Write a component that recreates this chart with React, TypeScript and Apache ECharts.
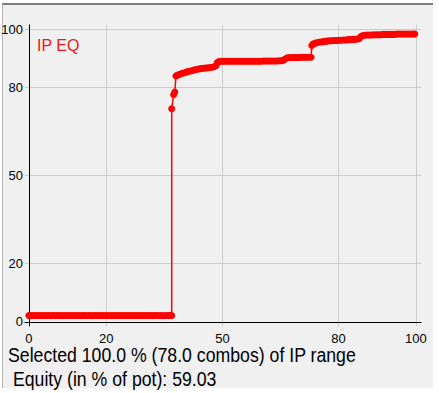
import React, { useEffect, useRef } from "react";
import * as echarts from "echarts";

// [share of IP range in %, equity in %]
const lowerBranch: number[][] = [
  [0, 2.2], [0.6, 2.2], [1.3, 2.2], [1.9, 2.2], [2.6, 2.2], [3.2, 2.2], [3.8, 2.2], [4.5, 2.2],
  [5.1, 2.2], [5.8, 2.2], [6.4, 2.2], [7.1, 2.2], [7.7, 2.2], [8.3, 2.2], [9.0, 2.2], [9.6, 2.2],
  [10.3, 2.2], [10.9, 2.2], [11.5, 2.2], [12.2, 2.2], [12.8, 2.2], [13.5, 2.2], [14.1, 2.2], [14.7, 2.2],
  [15.4, 2.2], [16.0, 2.2], [16.7, 2.2], [17.3, 2.2], [17.9, 2.2], [18.6, 2.2], [19.2, 2.2], [19.9, 2.2],
  [20.5, 2.2], [21.2, 2.2], [21.8, 2.2], [22.4, 2.2], [23.1, 2.2], [23.7, 2.2], [24.4, 2.2], [25.0, 2.2],
  [25.6, 2.2], [26.3, 2.2], [26.9, 2.2], [27.6, 2.2], [28.2, 2.2], [28.8, 2.2], [29.5, 2.2], [30.1, 2.2],
  [30.8, 2.2], [31.4, 2.2], [32.1, 2.2], [32.7, 2.2], [33.3, 2.2], [34.0, 2.2], [34.6, 2.2], [35.3, 2.2],
  [35.9, 2.2], [36.5, 2.2], [36.9, 2.2],
];

const upperBranch: number[][] = [
  [36.9, 72.8], [37.4, 77.6], [37.7, 78.5], [38.0, 84.0], [38.4, 84.3], [39.0, 84.6], [39.6, 84.9],
  [40.2, 85.1], [40.8, 85.4], [41.4, 85.6], [42.0, 85.8], [42.6, 86.0], [43.2, 86.2], [43.8, 86.4],
  [44.4, 86.5], [45.0, 86.6], [45.6, 86.7], [46.2, 86.8], [46.8, 86.9], [47.4, 87.0], [48.0, 87.2],
  [48.4, 87.6], [48.7, 88.6], [49.1, 88.9], [49.7, 89.0], [50.3, 89.0], [50.9, 89.0], [51.5, 89.0],
  [52.1, 89.0], [52.7, 89.0], [53.3, 89.0], [53.9, 89.0], [54.5, 89.0], [55.1, 89.0], [55.7, 89.0],
  [56.3, 89.0], [56.9, 89.0], [57.5, 89.0], [58.1, 89.0], [58.7, 89.0], [59.3, 89.0], [59.9, 89.0],
  [60.5, 89.1], [61.1, 89.1], [61.7, 89.1], [62.3, 89.1], [62.9, 89.1], [63.5, 89.1], [64.1, 89.1],
  [64.7, 89.2], [65.3, 89.2], [65.8, 89.4], [66.3, 89.9], [66.8, 90.2], [67.4, 90.3], [68.0, 90.3],
  [68.6, 90.3], [69.2, 90.3], [69.8, 90.3], [70.4, 90.4], [71.0, 90.4], [71.6, 90.4], [72.2, 90.4],
  [72.9, 90.4], [73.1, 94.4], [73.4, 94.9], [74.0, 95.2], [74.6, 95.4], [75.2, 95.6], [75.8, 95.7],
  [76.4, 95.8], [77.0, 95.9], [77.6, 96.0], [78.2, 96.0], [78.8, 96.1], [79.4, 96.1], [80.0, 96.2],
  [80.6, 96.2], [81.2, 96.3], [81.8, 96.3], [82.4, 96.4], [83.0, 96.4], [83.6, 96.5], [84.2, 96.5],
  [84.8, 96.6], [85.3, 96.7], [85.7, 97.4], [86.1, 97.7], [86.7, 97.9], [87.3, 98.0], [87.9, 98.0],
  [88.5, 98.0], [89.1, 98.1], [89.7, 98.1], [90.3, 98.1], [90.9, 98.1], [91.5, 98.2], [92.1, 98.2],
  [92.7, 98.2], [93.3, 98.2], [93.9, 98.2], [94.5, 98.2], [95.1, 98.3], [95.7, 98.3], [96.3, 98.3],
  [96.9, 98.3], [97.5, 98.3], [98.1, 98.3], [98.7, 98.3], [99.3, 98.3], [99.7, 98.3],
];

const xTicks = [0, 20, 50, 80, 100];
const yTicks = [0, 20, 50, 80, 100];

const seriesName = "IP EQ";
const footerLines = [
  "Selected 100.0 % (78.0 combos) of IP range",
  " Equity (in % of pot): 59.03",
];

const FONT = "'Liberation Sans', Arial, sans-serif";

export default function App() {
  const ref = useRef<HTMLDivElement>(null);

  useEffect(() => {
    if (!ref.current) return;
    const chart = echarts.init(ref.current, undefined, { renderer: "svg" });
    const data = [...lowerBranch, ...upperBranch];
    chart.setOption({
      animation: false,
      backgroundColor: "transparent",
      grid: {
        left: 25,
        right: 18,
        top: 25,
        bottom: 67,
        containLabel: false,
        outerBoundsMode: "none",
      },
      xAxis: {
        type: "value",
        min: -1,
        max: 101.3,
        axisLine: { show: true, onZero: true, lineStyle: { color: "#000", width: 1 } },
        axisTick: { show: false, customValues: xTicks },
        axisLabel: {
          customValues: xTicks,
          color: "#000",
          fontSize: 13,
          fontFamily: FONT,
          margin: 6,
        },
        splitLine: { show: true, lineStyle: { color: "#cbcbcb", width: 1 } },
      },
      yAxis: {
        type: "value",
        min: -1.4,
        max: 101.4,
        axisLine: { show: true, onZero: true, lineStyle: { color: "#000", width: 1 } },
        axisTick: { show: false, customValues: yTicks },
        axisLabel: {
          customValues: yTicks,
          color: "#000",
          fontSize: 13,
          fontFamily: FONT,
          margin: 2,
        },
        splitLine: { show: true, lineStyle: { color: "#cbcbcb", width: 1 } },
      },
      graphic: [
        {
          type: "text",
          left: 37,
          top: 37,
          style: {
            text: seriesName,
            fill: "#e81a1a",
            fontSize: 16,
            fontFamily: FONT,
          },
        },
        {
          type: "text",
          x: 8,
          y: 355.5,
          scaleY: 1.15,
          style: {
            text: footerLines[0],
            fill: "#000",
            fontSize: 17.7,
            fontFamily: FONT,
            verticalAlign: "middle",
          },
        },
        {
          type: "text",
          x: 8,
          y: 379.5,
          scaleY: 1.15,
          style: {
            text: footerLines[1],
            fill: "#000",
            fontSize: 17.7,
            fontFamily: FONT,
            verticalAlign: "middle",
          },
        },
      ],
      series: [
        {
          name: seriesName,
          type: "line",
          data,
          symbol: "circle",
          symbolSize: 7,
          showSymbol: true,
          showAllSymbol: true,
          lineStyle: { color: "#ff0000", width: 1.5 },
          itemStyle: { color: "#ff0000" },
        },
      ],
    });
    return () => chart.dispose();
  }, []);

  return (
    <div style={{ position: "absolute", left: 0, top: 0, width: 439, height: 393, background: "#fff" }}>
      <div
        style={{
          position: "absolute",
          left: 2,
          top: 3,
          width: 431,
          height: 385,
          background: "#f0f0f0",
          borderTop: "2px solid #7d7d7d",
          borderLeft: "1px solid #b4b4b4",
          boxSizing: "border-box",
        }}
      />
      <div ref={ref} style={{ position: "absolute", left: 0, top: 0, width: 439, height: 393 }} />
    </div>
  );
}
